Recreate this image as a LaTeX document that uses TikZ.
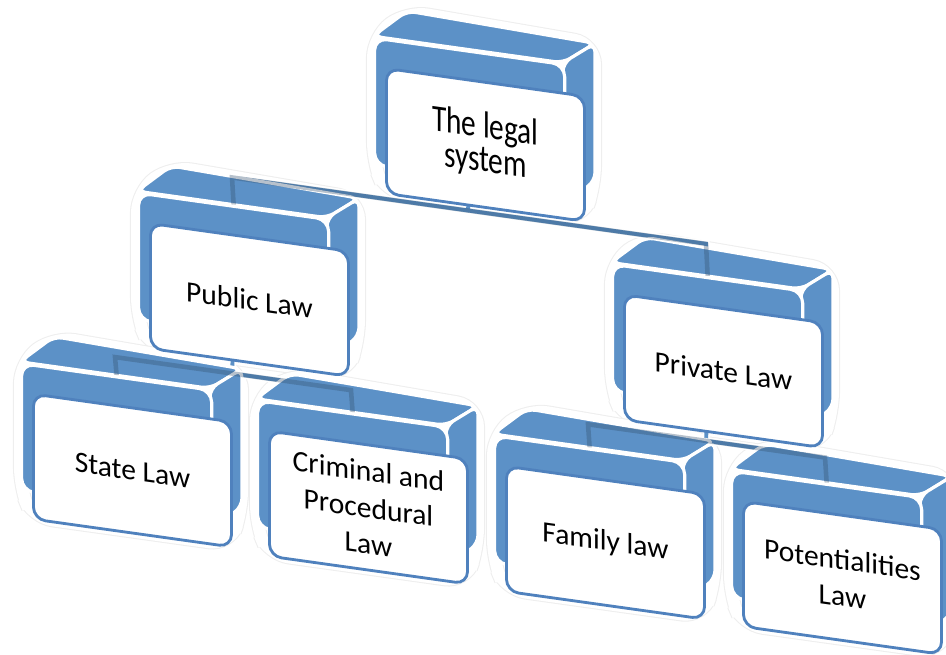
\documentclass[tikz,border=0pt]{standalone}
\usepackage{fontspec}
\setmainfont{Carlito}
\newfontfamily\tallfont{Carlito}[FakeStretch=0.78]
\definecolor{boxblue}{RGB}{92,145,199}
\definecolor{cardblue}{RGB}{79,129,189}
\pgfdeclarelayer{glow}
\pgfdeclarelayer{back}
\pgfdeclarelayer{faces}
\pgfdeclarelayer{shade}
\pgfsetlayers{glow,back,faces,shade,main}

% one 3d box: name, card corner x, card corner y, text
\newcommand{\lawbox}[5][]{%
  \begin{scope}[shift={(#3,#4)}]
    \begin{pgfonlayer}{glow}
      \draw[glow] (-12,-29) -- (22,-59) -- (210,-53) -- (210,90) -- (198,125) -- (0,125) -- (-12,98) -- cycle;
    \end{pgfonlayer}
    \begin{pgfonlayer}{faces}
      \filldraw[face] (-12,-29) -- (22,-59) -- (210,-53) -- (178,-29) -- cycle;
      \filldraw[face] (178,-29) -- (210,-53) -- (210,85) -- (192,100) -- (178,98) -- cycle;
    \end{pgfonlayer}
    \node (#2-f) [front] at (-12,-29) {};
    \node (#2) [card, #1] at (0,0) {#5};
  \end{scope}}

\begin{document}
\begin{tikzpicture}[x=0.01cm, y=-0.01cm,
    glow/.style={draw=gray!13, line width=0.3pt, double=white, double distance=3.4pt, rounded corners=6pt},
    face/.style={fill=boxblue, draw=white, line width=0.9pt, rounded corners=2.5pt},
    front/.style={fill=boxblue, draw=white, line width=0.9pt, rounded corners=3.5pt,
      minimum width=1.9cm, minimum height=1.27cm, inner sep=0pt, anchor=north west, transform shape},
    card/.style={fill=white, draw=cardblue, line width=0.8pt, rounded corners=3.5pt,
      minimum width=1.98cm, minimum height=1.25cm, inner sep=2pt, anchor=north west,
      align=center, transform shape, font=\fontsize{8.4}{10.4}\selectfont},
    tall/.style={font=\tallfont\fontsize{10.7}{9.6}\selectfont},
    link/.style={draw=white, line width=0.5pt, double=boxblue, double distance=1.1pt},
    seen/.style={draw=boxblue!55!black, line width=1.3pt, opacity=0.35}]
  \useasboundingbox (0,0) rectangle (946,655);
  \begin{scope}[yslant=-0.14]
    % boxes
    \lawbox[tall]{top}{385}{13}{The legal\\system}
    \lawbox{pub}{149}{201}{Public Law}
    \lawbox{pri}{623}{206}{Private Law}
    \lawbox{state}{32}{388}{State Law}
    \lawbox{crim}{268}{392}{Criminal and\\Procedural\\Law}
    \lawbox{fam}{505}{394}{Family law}
    \lawbox{pot}{742}{396}{Potentialities\\Law}
    % junctions
    \coordinate (j-top) at (468,145);
    \coordinate (j-pub) at (232,145);
    \coordinate (j-pri) at (706,145);
    \coordinate (j-pubdown) at (232,341);
    \coordinate (j-state) at (115,341);
    \coordinate (j-crim) at (351,341);
    \coordinate (j-pridown) at (706,342);
    \coordinate (j-fam) at (588,342);
    \coordinate (j-pot) at (825,342);
    % connectors
    \begin{pgfonlayer}{back}
      \draw[link] (top-f.south) -- (j-top) (pub-f.north) -- (j-pub) -- (j-pri) -- (pri-f.north);
      \draw[link] (pub-f.south) -- (j-pubdown) (state-f.north) -- (j-state) -- (j-crim) -- (crim-f.north);
      \draw[link] (pri-f.south) -- (j-pridown) (fam-f.north) -- (j-fam) -- (j-pot) -- (pot-f.north);
    \end{pgfonlayer}
    \begin{pgfonlayer}{shade}
      \draw[seen] (pub-f.north) -- (j-pub) -- (j-pri) -- (pri-f.north);
      \draw[seen] (state-f.north) -- (j-state) -- (j-crim) -- (crim-f.north);
      \draw[seen] (fam-f.north) -- (j-fam) -- (j-pot) -- (pot-f.north);
    \end{pgfonlayer}
  \end{scope}
\end{tikzpicture}
\end{document}
